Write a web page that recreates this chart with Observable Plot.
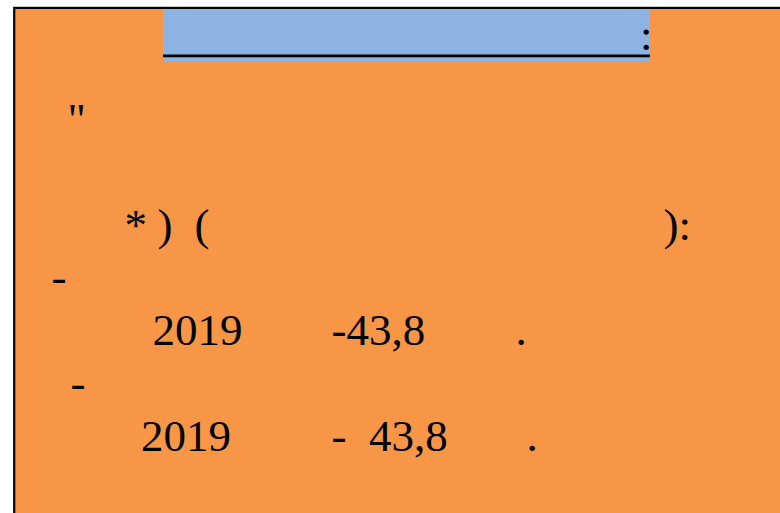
<!DOCTYPE html>
<html>
<head>
<meta charset="utf-8">
<script src="https://cdn.jsdelivr.net/npm/d3@7"></script>
<script src="https://cdn.jsdelivr.net/npm/@observablehq/plot@0.6"></script>
<style>
  html, body { margin: 0; padding: 0; background: #ffffff; overflow: hidden; }
  #chart svg { display: block; }
</style>
</head>
<body>
<div id="chart"></div>
<script>
// Header text (only punctuation survives from the original right-to-left heading)
const headerTexts = [":"];
const headerCols = [639.5];

// Body text fragments: text, line number, column
const bodyTexts = ['"', "*", ")", "(", "):", "-", "2019", "-43,8", ".", "-", "2019", "-", "43,8", "."];
const bodyLines = [1, 3, 3, 3, 3, 4, 5, 5, 5, 6, 7, 7, 7, 7];
const bodyCols  = [67, 124, 157, 194, 663, 51, 152, 331, 515, 70, 140.5, 331, 368.5, 526];

const fragments = bodyTexts.map((t, i) => ({text: t, line: bodyLines[i], col: bodyCols[i]}));
const header = headerTexts.map((t, i) => ({text: t, col: headerCols[i]}));

const W = 780, H = 513;
const layout = {
  panel: {x1: 14.2, y1: 7.9, x2: 820, y2: 560},
  band: {x1: 163, x2: 650, y1: 9, y2: 61, rule: 55.3},
  headerBaseline: 49.5,
  lineTop: 239, lineBottom: 450
};

const chart = Plot.plot({
  width: W,
  height: H,
  margin: 0,
  x: {type: "linear", domain: [0, W], range: [0, W], axis: null},
  y: {type: "linear", domain: [0, H], range: [0, H], axis: null},
  style: {background: "transparent", overflow: "visible", color: "black"},
  marks: [
    Plot.rect([layout.panel], {x1: "x1", x2: "x2", y1: "y1", y2: "y2", fill: "#F79646", stroke: "#000", strokeWidth: 2.2}),
    Plot.rect([layout.band], {x1: "x1", x2: "x2", y1: "y1", y2: "y2", fill: "#8DB3E2"}),
    Plot.ruleY([layout.band.rule], {x1: layout.band.x1, x2: layout.band.x2, stroke: "#000", strokeWidth: 2.7}),
    Plot.text(header, {
      x: "col", y: () => layout.headerBaseline, text: "text",
      textAnchor: "start", lineAnchor: "bottom",
      fontFamily: "Liberation Serif", fontSize: 45, fill: "#000"
    }),
    Plot.text(fragments, {
      x: "col",
      y: d => layout.lineTop + (d.line - 3) * (layout.lineBottom - layout.lineTop) / 4,
      text: "text",
      textAnchor: "start", lineAnchor: "bottom",
      fontFamily: "Liberation Serif", fontSize: 45, fill: "#000"
    })
  ]
});

document.getElementById("chart").appendChild(chart);
</script>
</body>
</html>
